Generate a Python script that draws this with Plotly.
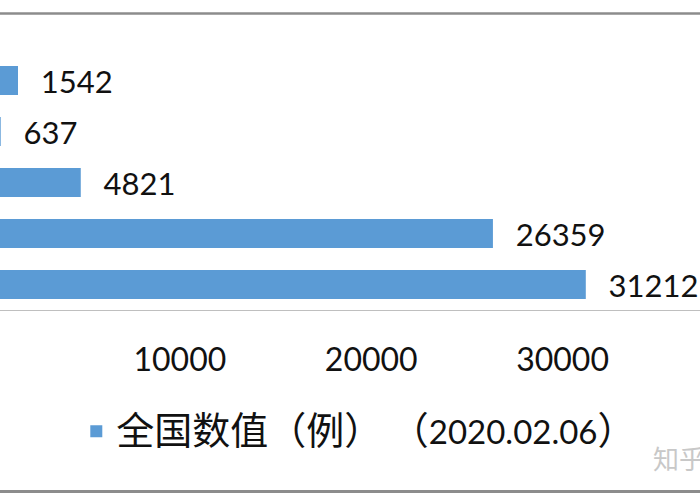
import plotly.graph_objects as go

# Data (top-to-bottom order in the picture)
categories = ["治愈", "死亡", "重症", "疑似", "确诊"]
values = [1542, 637, 4821, 26359, 31212]
series_name = ("<span style='font-size:38px'>全国数值（例）</span>\u00a0"
               "<span style='font-size:38px'>（</span>2020.02.06"
               "<span style='font-size:38px'>）</span>")
tick_vals = [0, 10000, 20000, 30000, 40000]
tick_text = ["0", "10000", "20000", "30000", "40000"]

BLUE = "#5B9BD5"
NUM_FONT = "Lato, 'Open Sans', 'Noto Sans CJK SC', sans-serif"

fig = go.Figure()
fig.add_trace(go.Bar(
    x=values,
    y=categories,
    orientation="h",
    marker=dict(color=BLUE, line=dict(width=0)),
    name=series_name,
    showlegend=True,
    text=[str(v) for v in values],
    texttemplate="\u00a0\u00a0\u2009%{text}",
    textposition="outside",
    constraintext="none",
    cliponaxis=False,
    outsidetextfont=dict(family=NUM_FONT, size=31, color="#111111"),
    hoverinfo="skip",
))

# watermark
fig.add_annotation(xref="paper", yref="paper", x=0.93, y=-0.58,
                   xanchor="left", yanchor="middle", text="知乎",
                   showarrow=False,
                   font=dict(family="Noto Sans CJK SC", size=26, color="#C8C8C8"))

# chart-area border lines (top & bottom)
fig.add_shape(type="line", xref="paper", yref="paper", x0=0, x1=1,
              y0=1.163, y1=1.163, line=dict(color="#8C8C8C", width=2.5))
fig.add_shape(type="line", xref="paper", yref="paper", x0=0, x1=1,
              y0=-0.712, y1=-0.712, line=dict(color="#8C8C8C", width=3))

fig.update_layout(
    width=700, height=500,
    margin=dict(l=0, r=0, t=55, b=190, autoexpand=False),
    paper_bgcolor="white", plot_bgcolor="white",
    bargap=0.43,
    showlegend=True,
    legend=dict(orientation="h", x=0.109, xanchor="left", y=-0.476, yanchor="middle",
                font=dict(family=NUM_FONT, size=33, color="#111111"),
                bgcolor="rgba(0,0,0,0)"),
    xaxis=dict(range=[600, 37180], tickvals=tick_vals, ticktext=tick_text,
               showgrid=False, zeroline=False, showline=True,
               linecolor="#BFBFBF", linewidth=1, ticks="",
               ticklabelstandoff=22,
               tickfont=dict(family=NUM_FONT, size=32, color="#111111")),
    yaxis=dict(categoryorder="array", categoryarray=categories[::-1],
               showticklabels=False, showgrid=False, zeroline=False, showline=False),
)

fig.write_html("out.html", config={"displayModeBar": False},
               post_script="document.body.style.margin='0';")
